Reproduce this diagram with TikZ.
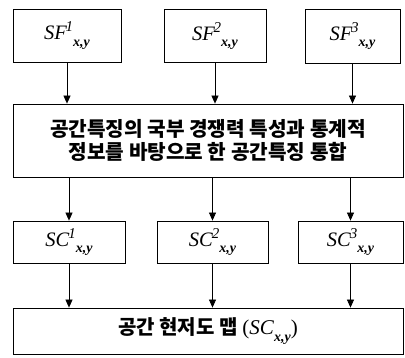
\documentclass[tikz,border=0pt]{standalone}
\usepackage{fontspec}
\setmainfont{Liberation Serif}
\newfontfamily\kr{Noto Sans CJK KR}
\usetikzlibrary{arrows.meta}
\newcommand{\lbl}[2]{\textit{#1}\kern-0.06em\raisebox{0.4em}{\fontsize{15}{15}\selectfont\textit{#2}}\raisebox{-0.32em}{\fontsize{14}{14}\selectfont\textbf{\textit{x,y}}}}
\begin{document}
\begin{tikzpicture}[x=1pt,y=-1pt,
  box/.style={draw, line width=0.8pt, inner sep=0pt, align=center},
  lab/.style={font=\fontsize{20.5}{24}\selectfont},
  krt/.style={font=\kr\bfseries\fontsize{20.2}{23.5}\selectfont},
  arr/.style={draw, line width=0.7pt, -{Triangle[width=7pt,length=8pt]}}]
\useasboundingbox (0,0) rectangle (405,357);
\node[box, lab, minimum width=108pt, minimum height=53pt] (sf1) at (67,35.5) {\lbl{SF}{1}};
\node[box, lab, minimum width=102pt, minimum height=53pt] (sf2) at (215,36) {\lbl{SF}{2}};
\node[box, lab, minimum width=95pt, minimum height=54pt] (sf3) at (352.5,36) {\lbl{SF}{3}};
\node[box, krt, minimum width=390pt, minimum height=73pt] (mid) at (208,140.5) {공간특징의 국부 경쟁력 특성과 통계적\\정보를 바탕으로 한 공간특징 통합};
\node[box, lab, minimum width=112pt, minimum height=42pt] (sc1) at (69,242) {\lbl{SC}{1}};
\node[box, lab, minimum width=111pt, minimum height=42pt] (sc2) at (212.5,242) {\lbl{SC}{2}};
\node[box, lab, minimum width=105pt, minimum height=42pt] (sc3) at (350.5,242) {\lbl{SC}{3}};
\node[box, minimum width=390pt, minimum height=46pt] (bot) at (208,331) {{\kr\bfseries\fontsize{20}{23}\selectfont 공간 현저도 맵 }{\fontsize{21}{24}\selectfont(\textit{SC}\raisebox{-0.32em}{\fontsize{14}{14}\selectfont\textbf{\textit{x,y}}})}};
\draw[arr] (sf1.south) -- (sf1.south |- mid.north);
\draw[arr] (sf2.south) -- (sf2.south |- mid.north);
\draw[arr] (sf3.south) -- (sf3.south |- mid.north);
\draw[arr] (mid.south -| sc1.north) -- (sc1.north);
\draw[arr] (mid.south -| sc2.north) -- (sc2.north);
\draw[arr] (mid.south -| sc3.north) -- (sc3.north);
\draw[arr] (sc1.south) -- (sc1.south |- bot.north);
\draw[arr] (sc2.south) -- (sc2.south |- bot.north);
\draw[arr] (sc3.south) -- (sc3.south |- bot.north);
\end{tikzpicture}
\end{document}
